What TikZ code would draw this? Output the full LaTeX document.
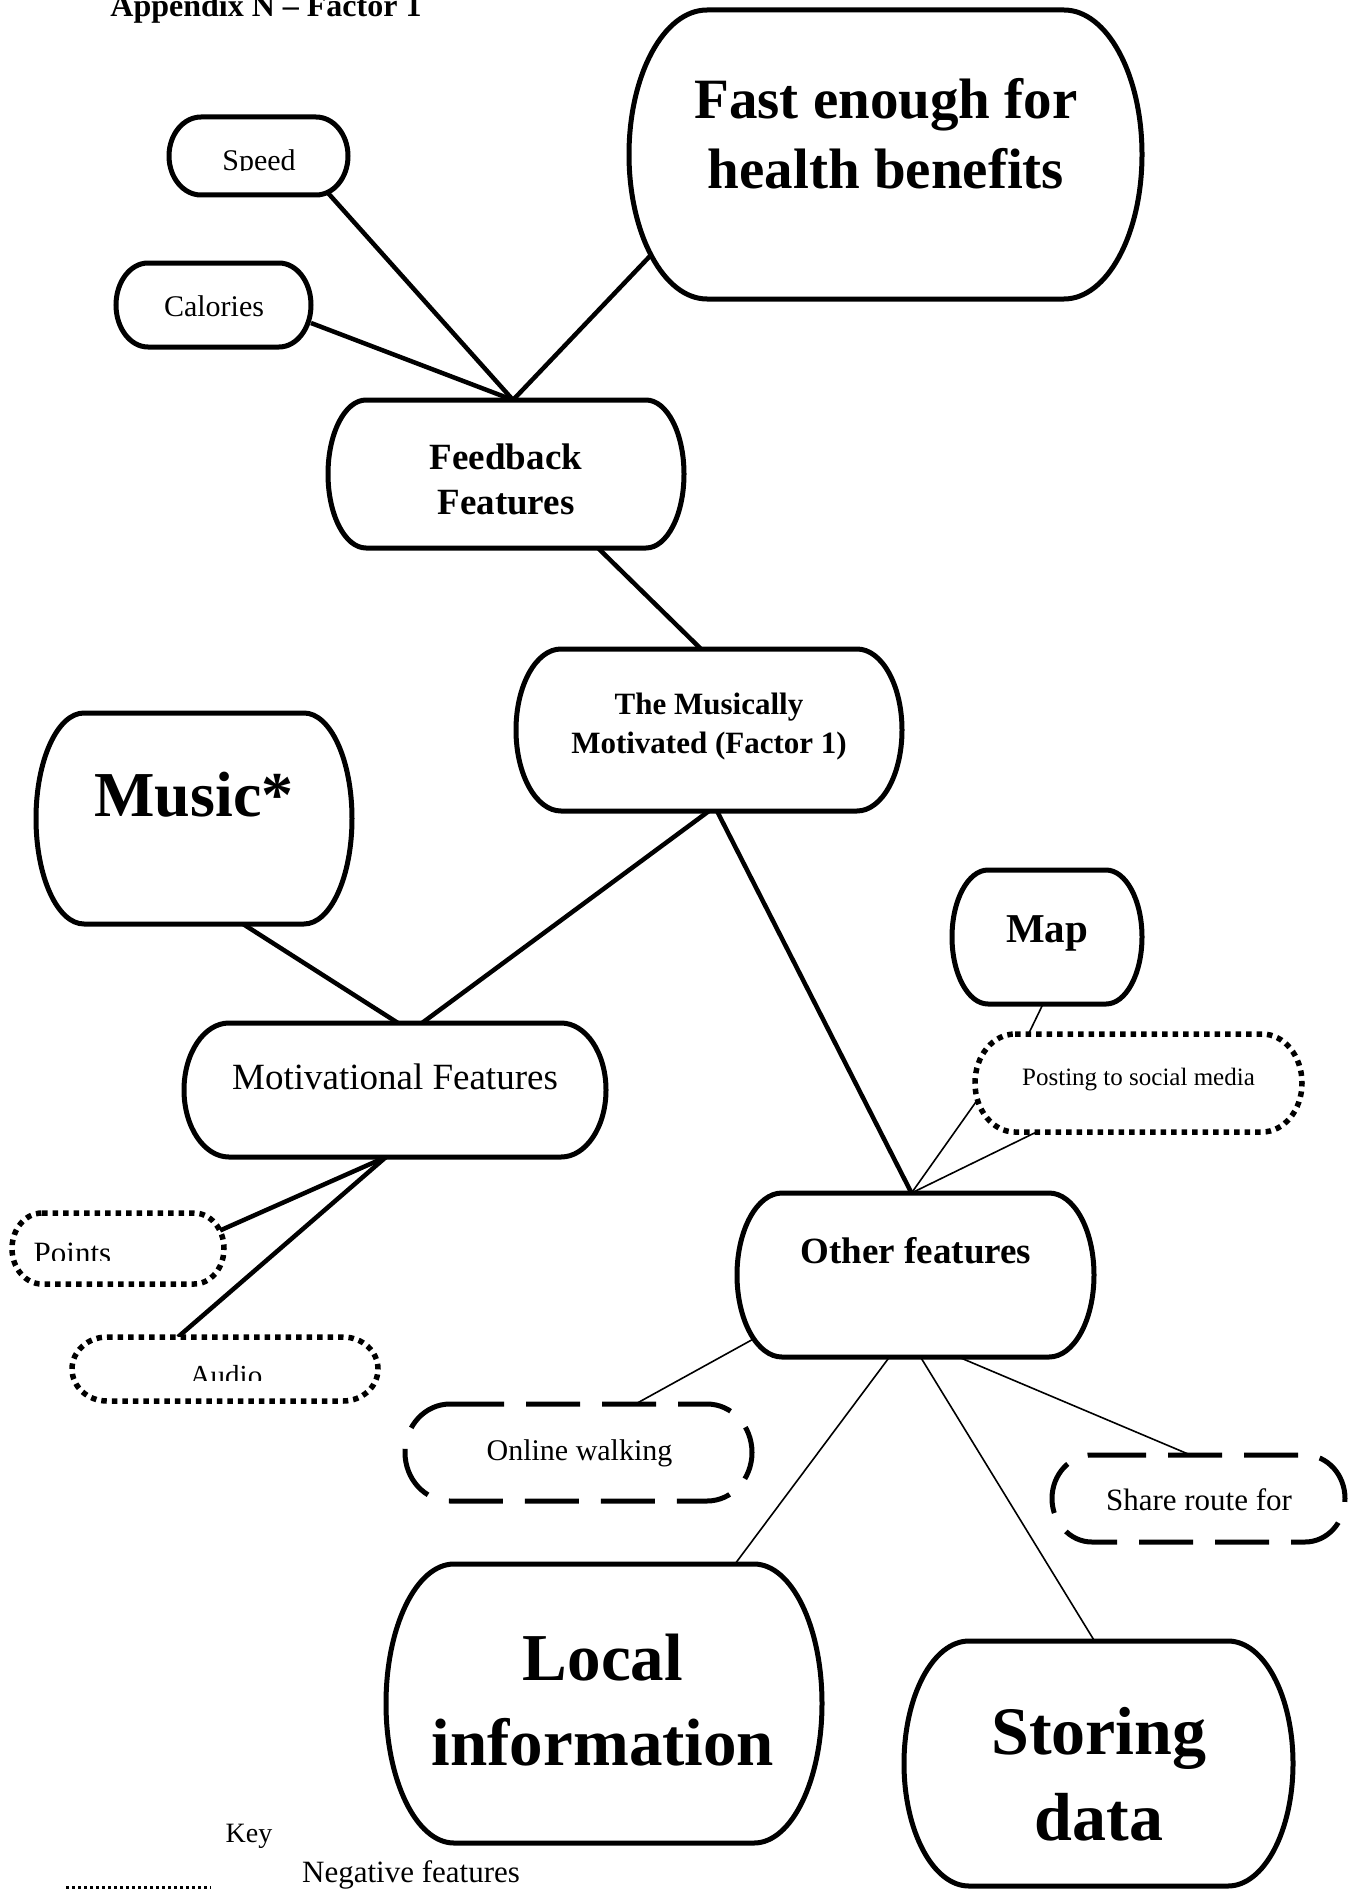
\documentclass[tikz,border=0pt]{standalone}
\usepackage{fontspec}
\setmainfont{Liberation Serif}

% rounded box with elliptic corners round a named node: style, node, x radius, y radius
\newcommand{\featbox}[4][box]{%
  \draw[#1] ([xshift=#3]#2.north west) -- ([xshift=-#3]#2.north east)
    arc[start angle=90,end angle=0,x radius=#3,y radius=#4] -- ([yshift=#4]#2.south east)
    arc[start angle=0,end angle=-90,x radius=#3,y radius=#4] -- ([xshift=#3]#2.south west)
    arc[start angle=270,end angle=180,x radius=#3,y radius=#4] -- ([yshift=-#4]#2.north west)
    arc[start angle=180,end angle=90,x radius=#3,y radius=#4] -- cycle;}

\begin{document}
\begin{tikzpicture}[x=1pt,y=-1pt,
  area/.style={inner sep=0pt,outer sep=0pt},
  box/.style={line width=5pt,fill=white},
  dotbox/.style={box,line width=5.5pt,dash pattern=on 5.5pt off 5pt},
  dashbox/.style={box,dash pattern=on 54pt off 22pt},
  link/.style={line width=4.5pt},
  thinlink/.style={line width=1.6pt}]
\fill[white] (0,0) rectangle (1347,1889);
\useasboundingbox (0,0) rectangle (1347,1889);

\node[anchor=base,font=\fontsize{32}{38}\selectfont\bfseries] (title) at (266,17) {Appendix N -- Factor 1};

% places of the boxes
\node[area,minimum width=513pt,minimum height=289pt] (fast) at (885.5,154.5) {};
\node[area,minimum width=179pt,minimum height=78pt] (speed) at (258.5,156) {};
\node[area,minimum width=195pt,minimum height=84pt] (calories) at (213.5,305) {};
\node[area,minimum width=356pt,minimum height=148pt] (feedback) at (506,474) {};
\node[area,minimum width=386pt,minimum height=162pt] (musically) at (709,730) {};
\node[area,minimum width=316pt,minimum height=211pt] (music) at (194,818.5) {};
\node[area,minimum width=422pt,minimum height=134pt] (motivational) at (395,1090) {};
\node[area,minimum width=212pt,minimum height=71pt] (points) at (118,1248.5) {};
\node[area,minimum width=306pt,minimum height=64pt] (audio) at (225,1369) {};
\node[area,minimum width=190pt,minimum height=134pt] (map) at (1047,937) {};
\node[area,minimum width=327pt,minimum height=98pt] (posting) at (1138.5,1083) {};
\node[area,minimum width=357pt,minimum height=164pt] (other) at (915.5,1275) {};
\node[area,minimum width=347pt,minimum height=97pt] (online) at (578.5,1452.5) {};
\node[area,minimum width=293pt,minimum height=87pt] (share) at (1198.5,1498.5) {};
\node[area,minimum width=436pt,minimum height=279pt] (local) at (604,1703.5) {};
\node[area,minimum width=389pt,minimum height=245pt] (storing) at (1098.5,1763.5) {};

% connectors
\draw[link] ([xshift=-20pt,yshift=2pt]speed.south east) -- ([xshift=7pt]feedback.north);
\draw[link] ([yshift=-18pt]calories.east) -- ([xshift=7pt]feedback.north);
\draw[link] ([xshift=22pt,yshift=44pt]fast.south west) -- ([xshift=7pt]feedback.north);
\draw[link] ([xshift=92pt]feedback.south) -- ([xshift=-8pt]musically.north);
\draw[link] (musically.south) -- ([xshift=27pt]motivational.north);
\draw[link] ([xshift=49pt]music.south) -- ([xshift=3pt]motivational.north);
\draw[link] ([xshift=8pt]musically.south) -- ([xshift=-4pt]other.north);
\draw[link] ([xshift=-9pt]motivational.south) -- ([xshift=-4pt,yshift=18pt]points.east);
\draw[link] ([xshift=-9pt]motivational.south) -- ([xshift=-47pt]audio.north);
\draw[thinlink] ([xshift=-4pt]map.south) -- ([xshift=-110pt]posting.north);
\draw[thinlink] ([xshift=-4pt]other.north) -- ([xshift=3pt,yshift=-16pt]posting.west);
\draw[thinlink] ([xshift=-4pt]other.north) -- ([xshift=-102pt]posting.south);
\draw[thinlink] ([xshift=20pt,yshift=20pt]other.south west) -- ([xshift=57pt]online.north);
\draw[thinlink] ([xshift=-26pt]other.south) -- ([xshift=131pt]local.north);
\draw[thinlink] ([xshift=5pt]other.south) -- ([xshift=-4pt]storing.north);
\draw[thinlink] ([xshift=43pt]other.south) -- ([xshift=-8pt]share.north);

% boxes
\featbox{fast}{78pt}{144.5pt}
\featbox{speed}{32pt}{39pt}
\featbox{calories}{32pt}{42pt}
\featbox{feedback}{38pt}{74pt}
\featbox{musically}{45pt}{81pt}
\featbox{music}{48pt}{105.5pt}
\featbox{motivational}{45pt}{67pt}
\featbox[dotbox]{points}{30pt}{35.5pt}
\featbox[dotbox]{audio}{35pt}{32pt}
\featbox{map}{36pt}{67pt}
\featbox[dotbox]{posting}{40pt}{49pt}
\featbox{other}{45pt}{82pt}
\featbox[dashbox]{online}{45pt}{48.5pt}
\featbox[dashbox]{share}{40pt}{43.5pt}
\featbox{local}{68pt}{139.5pt}
\featbox{storing}{65pt}{122.5pt}

% texts
\node[align=center,font=\fontsize{57}{70}\selectfont\bfseries] (fasttxt) at (886,134) {Fast enough for\\health benefits};
\begin{scope}
\clip (169,117) rectangle (348,171);
\node[font=\fontsize{30}{36}\selectfont] (speedtxt) at (259,163) {Speed};
\end{scope}
\node[font=\fontsize{30}{36}\selectfont] (caloriestxt) at (214,306) {Calories};
\node[align=center,font=\fontsize{37}{45}\selectfont\bfseries] (feedbacktxt) at (506,479.5) {Feedback\\Features};
\node[align=center,font=\fontsize{31}{39}\selectfont\bfseries] (musicallytxt) at (709,726.5) {The Musically\\Motivated (Factor 1)};
\node[font=\fontsize{64}{76}\selectfont\bfseries] (musictxt) at (194,795) {Music*};
\node[font=\fontsize{37}{44}\selectfont] (motivationaltxt) at (395,1077) {Motivational Features};
\begin{scope}
\clip (12,1213) rectangle (224,1260);
\node[font=\fontsize{31}{37}\selectfont] (pointstxt) at (72.5,1253) {Points};
\end{scope}
\begin{scope}
\clip (72,1337) rectangle (378,1380);
\node[font=\fontsize{29}{35}\selectfont] (audiotxt) at (226,1376) {Audio};
\end{scope}
\node[font=\fontsize{41}{49}\selectfont\bfseries] (maptxt) at (1047,933) {Map};
\node[font=\fontsize{25}{30}\selectfont] (postingtxt) at (1138.5,1080) {Posting to social media};
\node[font=\fontsize{37}{44}\selectfont\bfseries] (othertxt) at (916,1250.5) {Other features};
\node[font=\fontsize{30}{36}\selectfont] (onlinetxt) at (579.5,1453.5) {Online walking};
\node[font=\fontsize{31}{37}\selectfont] (sharetxt) at (1199,1500) {Share route for};
\node[align=center,font=\fontsize{67}{85}\selectfont\bfseries] (localtxt) at (603,1700.5) {Local\\information};
\node[align=center,font=\fontsize{68}{86}\selectfont\bfseries] (storingtxt) at (1099,1774) {Storing\\data};

% key
\node[font=\fontsize{28}{34}\selectfont] (keytxt) at (249,1836) {Key};
\node[font=\fontsize{31}{37}\selectfont] (negtxt) at (411,1875) {Negative features};
\draw[line width=3pt,dash pattern=on 3pt off 3pt] (66,1887) -- (211,1887);
\end{tikzpicture}
\end{document}
